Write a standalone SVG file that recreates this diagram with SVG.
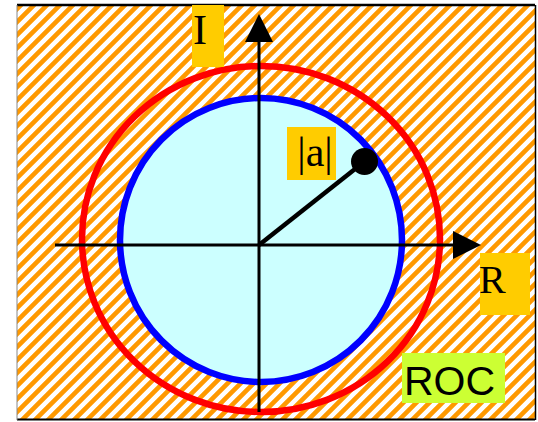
<svg xmlns="http://www.w3.org/2000/svg" width="538" height="422" viewBox="0 0 538 422">
  <defs>
    <pattern id="hatch" patternUnits="userSpaceOnUse" width="13" height="13">
      <rect width="13" height="13" fill="#ffffff"/>
      <path d="M-3,16 L16,-3 M-9.5,9.5 L9.5,-9.5 M3.5,22.5 L22.5,3.5" stroke="#ff9900" stroke-width="4.6"/>
    </pattern>
    <marker id="arrow" viewBox="0 0 28 28" refX="0" refY="14" markerWidth="28" markerHeight="28" markerUnits="userSpaceOnUse" orient="auto">
      <path d="M0,0 L28,14 L0,28 Z" fill="#000"/>
    </marker>
  </defs>
  <style>
    .lbl { font-family: "Liberation Serif", "Times New Roman", serif; fill: #000; }
    .box { fill: #ffcc00; }
    .axis { stroke: #000; stroke-width: 3; fill: none; }
  </style>
  <rect x="0" y="0" width="538" height="422" fill="#ffffff"/>
  <g id="plane">
    <rect x="17" y="5" width="518" height="414" fill="url(#hatch)"/>
    <line x1="17" y1="5" x2="535" y2="5" stroke="#000" stroke-width="2.5"/>
    <line x1="535.5" y1="5" x2="535.5" y2="420" stroke="#000" stroke-width="1.5"/>
    <line x1="17" y1="419.5" x2="535" y2="419.5" stroke="#000" stroke-width="2"/>
    <line x1="17" y1="5" x2="17" y2="420" stroke="#888" stroke-width="1"/>
  </g>
  <g id="roc-circle">
    <ellipse cx="261" cy="239" rx="179" ry="173" fill="none" stroke="#ff0000" stroke-width="6.5"/>
  </g>
  <g id="unit-circle">
    <ellipse cx="261" cy="240" rx="141" ry="142" fill="#ccffff" stroke="#0000ff" stroke-width="6.5"/>
  </g>
  <g id="connectors">
    <line class="axis" x1="55" y1="245" x2="453" y2="245" marker-end="url(#arrow)"/>
    <line class="axis" x1="259" y1="412" x2="259" y2="42" marker-end="url(#arrow)"/>
    <line x1="259" y1="245" x2="364.5" y2="161.5" stroke="#000" stroke-width="4.5"/>
  </g>
  <g id="pole">
    <circle cx="364.5" cy="161.5" r="13.5" fill="#000"/>
  </g>
  <g id="label-I">
    <rect class="box" x="192" y="5" width="32" height="62"/>
    <text class="lbl" x="200" y="44" font-size="42" text-anchor="middle">I</text>
  </g>
  <g id="label-a">
    <rect class="box" x="287" y="127" width="49" height="53"/>
    <text class="lbl" x="315" y="166" font-size="42" text-anchor="middle">|a|</text>
  </g>
  <g id="label-R">
    <rect class="box" x="480" y="253" width="50" height="62"/>
    <text class="lbl" x="479" y="293" font-size="40">R</text>
  </g>
  <g id="label-ROC">
    <rect x="402" y="353" width="103" height="50" fill="#ccff33"/>
    <text x="404" y="395" font-family="'Liberation Sans', Arial, sans-serif" font-size="41" fill="#000">ROC</text>
  </g>
</svg>
